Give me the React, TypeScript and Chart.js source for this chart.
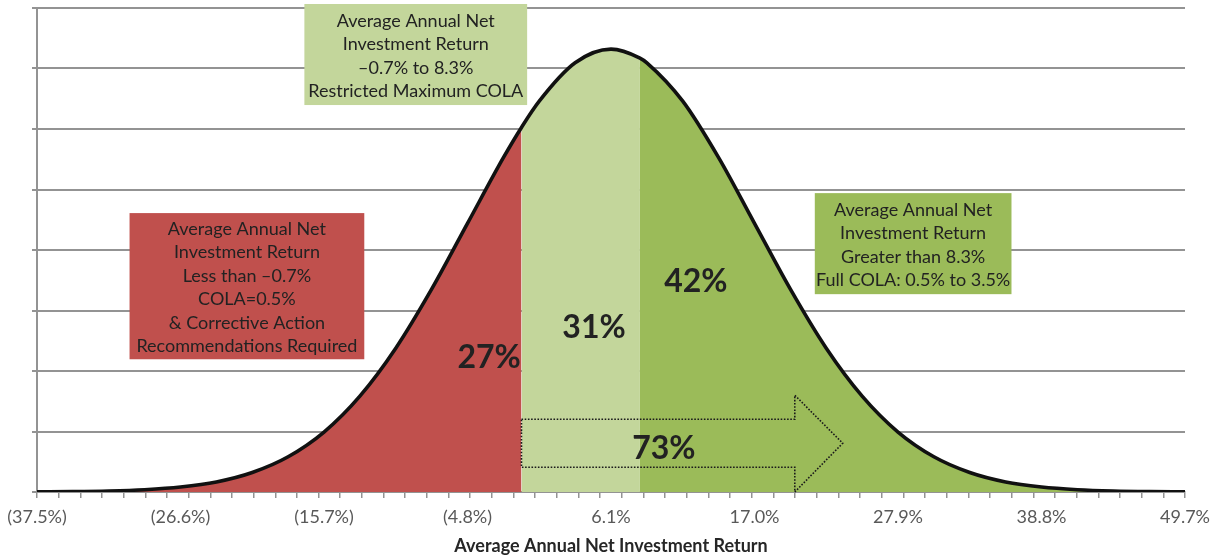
import { useEffect, useRef } from "react";
import { Chart, registerables } from "chart.js";

Chart.register(...registerables);

// Average annual net investment return (%) at each sampled point of the distribution
const RETURNS = [
  -37.5, -34.775, -32.05, -29.325, -26.6, -23.875, -21.15, -18.425, -15.7, -12.975, -10.25,
  -7.525, -4.8, -2.075, 0.65, 3.375, 6.1, 8.825, 11.55, 14.275, 17.0, 19.725, 22.45, 25.175,
  27.9, 30.625, 33.35, 36.075, 38.8, 41.525, 44.25, 46.975, 49.7,
];

// Probability density of each sampled return
const DENSITY = [
  0.00001, 0.00003, 0.00008, 0.00019, 0.00041, 0.00083, 0.00161, 0.00291, 0.00495, 0.00792,
  0.01188, 0.01676, 0.0222, 0.02763, 0.0323, 0.03547, 0.0366, 0.03547, 0.0323, 0.02763, 0.0222,
  0.01676, 0.01188, 0.00792, 0.00495, 0.00291, 0.00161, 0.00083, 0.00041, 0.00019, 0.00008,
  0.00003, 0.00001,
];

// COLA thresholds and the density at each threshold
const CUTOFFS = [-0.7, 8.3];
const CUTOFF_DENSITY = [0.03013, 0.03586];

// Axis labels
const TICK_VALUES = [-37.5, -26.6, -15.7, -4.8, 6.1, 17.0, 27.9, 38.8, 49.7];
const TICK_LABELS = ["(37.5%)", "(26.6%)", "(15.7%)", "(4.8%)", "6.1%", "17.0%", "27.9%", "38.8%", "49.7%"];
const MINOR_TICK_STEPS = 53;
const AXIS_TITLE = "Average Annual Net Investment Return";

// Share of outcomes in each band, and of outcomes above the lower threshold
const SHARES = ["27%", "31%", "42%"];
const SHARE_ABOVE_LOW = "73%";

const BOX_LOW = [
  "Average Annual Net",
  "Investment Return",
  "Less than \u20130.7%",
  "COLA=0.5%",
  "& Corrective Action",
  "Recommendations Required",
];
const BOX_MID = ["Average Annual Net", "Investment Return", "\u20130.7% to 8.3%", "Restricted Maximum COLA"];
const BOX_HIGH = ["Average Annual Net", "Investment Return", "Greater than 8.3%", "Full COLA: 0.5% to 3.5%"];

const RED = "#C0504D";
const LIGHT_GREEN = "#C3D69B";
const GREEN = "#9BBB59";
const GRID = "#939393";
const FONT = "Lato, 'Open Sans', sans-serif";

type Pt = { x: number; y: number };

const notesPlugin = {
  id: "bandNotes",
  afterDatasetsDraw(chart: any) {
    const { ctx } = chart;
    const xs = chart.scales.x;
    const ys = chart.scales.y;
    const px = (v: number) => xs.getPixelForValue(v);
    const py = (v: number) => ys.getPixelForValue(v);

    ctx.save();

    // dotted arrow spanning the two upper bands
    const a0 = CUTOFFS[0];
    const aShaft = 20.06;
    const aTip = 23.7;
    ctx.beginPath();
    ctx.moveTo(px(a0), py(0.00601));
    ctx.lineTo(px(aShaft), py(0.00601));
    ctx.lineTo(px(aShaft), py(0.008));
    ctx.lineTo(px(aTip), py(0.00403));
    ctx.lineTo(px(aShaft), py(0));
    ctx.lineTo(px(aShaft), py(0.00204));
    ctx.lineTo(px(a0), py(0.00204));
    ctx.closePath();
    ctx.setLineDash([1.6, 1.6]);
    ctx.lineWidth = 1.6;
    ctx.strokeStyle = "#1a1a1a";
    ctx.stroke();
    ctx.setLineDash([]);

    // band percentages
    ctx.fillStyle = "#222222";
    ctx.textAlign = "center";
    ctx.textBaseline = "middle";
    ctx.font = `bold 32px ${FONT}`;
    const shareAt: [string, number, number][] = [
      [SHARES[0], -3.16, 0.01114],
      [SHARES[1], 4.81, 0.01362],
      [SHARES[2], 12.55, 0.01734],
      [SHARE_ABOVE_LOW, 10.12, 0.00361],
    ];
    for (const [t, x, y] of shareAt) ctx.fillText(t, px(x), py(y));

    // explanatory boxes
    const boxes: { lines: string[]; fill: string; x0: number; x1: number; y0: number; y1: number }[] = [
      { lines: BOX_MID, fill: LIGHT_GREEN, x0: -17.19, x1: -0.27, y0: 0.03198, y1: 0.04033 },
      { lines: BOX_LOW, fill: RED, x0: -30.47, x1: -12.64, y0: 0.01097, y1: 0.02305 },
      { lines: BOX_HIGH, fill: GREEN, x0: 21.58, x1: 36.52, y0: 0.01635, y1: 0.0247 },
    ];
    ctx.font = `18px ${FONT}`;
    const lh = 23.5;
    for (const b of boxes) {
      const l = px(b.x0);
      const r = px(b.x1);
      const t = py(b.y1);
      const btm = py(b.y0);
      ctx.fillStyle = b.fill;
      ctx.fillRect(l, t, r - l, btm - t);
      ctx.fillStyle = "#222222";
      const cy = (t + btm) / 2 + 1.5;
      const n = b.lines.length;
      b.lines.forEach((s, i) => ctx.fillText(s, (l + r) / 2, cy + (i - (n - 1) / 2) * lh));
    }
    ctx.restore();
  },
};

export default function App() {
  const ref = useRef<HTMLCanvasElement | null>(null);

  useEffect(() => {
    if (!ref.current) return;

    const curve: Pt[] = RETURNS.map((x, i) => ({ x, y: DENSITY[i] }));
    const full: Pt[] = [...curve, ...CUTOFFS.map((x, i) => ({ x, y: CUTOFF_DENSITY[i] }))].sort(
      (a, b) => a.x - b.x
    );
    const low = full.filter((p) => p.x <= CUTOFFS[0]);
    const mid = full.filter((p) => p.x >= CUTOFFS[0] && p.x <= CUTOFFS[1]);
    const high = full.filter((p) => p.x >= CUTOFFS[1]);

    const band = (data: Pt[], color: string) => ({
      data,
      backgroundColor: color,
      borderColor: "transparent",
      borderWidth: 0,
      fill: "origin",
      pointRadius: 0,
      cubicInterpolationMode: "monotone" as const,
      order: 1,
    });

    const xMin = TICK_VALUES[0];
    const xMax = TICK_VALUES[TICK_VALUES.length - 1];

    const chart = new Chart(ref.current, {
      type: "line",
      data: {
        datasets: [
          {
            data: full,
            borderColor: "#111111",
            borderWidth: 3.6,
            fill: false,
            pointRadius: 0,
            cubicInterpolationMode: "monotone",
            order: 0,
          },
          band(low, RED),
          band(mid, LIGHT_GREEN),
          band(high, GREEN),
        ] as any,
      },
      options: {
        animation: false,
        responsive: true,
        maintainAspectRatio: false,
        layout: { padding: { left: 0, right: 31, top: 8, bottom: 0 } },
        plugins: { legend: { display: false }, tooltip: { enabled: false } },
        scales: {
          x: {
            type: "linear",
            min: xMin,
            max: xMax,
            afterBuildTicks: (scale: any) => {
              const ticks: any[] = [];
              const step = (xMax - xMin) / MINOR_TICK_STEPS;
              for (let i = 0; i <= MINOR_TICK_STEPS; i++) ticks.push({ value: xMin + i * step, text: "", minor: true });
              TICK_VALUES.forEach((v, i) => ticks.push({ value: v, text: TICK_LABELS[i], minor: false }));
              ticks.sort((a, b) => a.value - b.value);
              scale.ticks = ticks;
            },
            afterFit: (scale: any) => {
              scale.height = 66;
            },
            ticks: {
              autoSkip: false,
              maxRotation: 0,
              padding: 8,
              color: "#595959",
              font: { family: FONT, size: 18 },
              callback: (_v: any, i: number, ticks: any[]) => ticks[i].text,
            },
            grid: {
              drawOnChartArea: false,
              drawTicks: true,
              tickLength: 6,
              lineWidth: 1.5,
              tickColor: (c: any) => (c.tick && c.tick.minor ? GRID : "transparent"),
            },
            border: { display: true, color: GRID, width: 2 },
            title: {
              display: true,
              text: AXIS_TITLE,
              color: "#262626",
              font: { family: FONT, size: 18, weight: "bold" },
              padding: { top: 0, bottom: 1 },
            },
          },
          y: {
            min: 0,
            max: 0.04,
            afterFit: (scale: any) => {
              scale.width = 37;
            },
            ticks: { stepSize: 0.005, display: false },
            grid: { color: GRID, lineWidth: 2, drawTicks: true, tickLength: 5, tickColor: GRID },
            border: { display: true, color: GRID, width: 2 },
          },
        },
      },
      plugins: [notesPlugin],
    });

    return () => chart.destroy();
  }, []);

  return (
    <div style={{ position: "fixed", left: 0, top: 0, width: 1218, height: 558, background: "#ffffff" }}>
      <canvas ref={ref} />
    </div>
  );
}
